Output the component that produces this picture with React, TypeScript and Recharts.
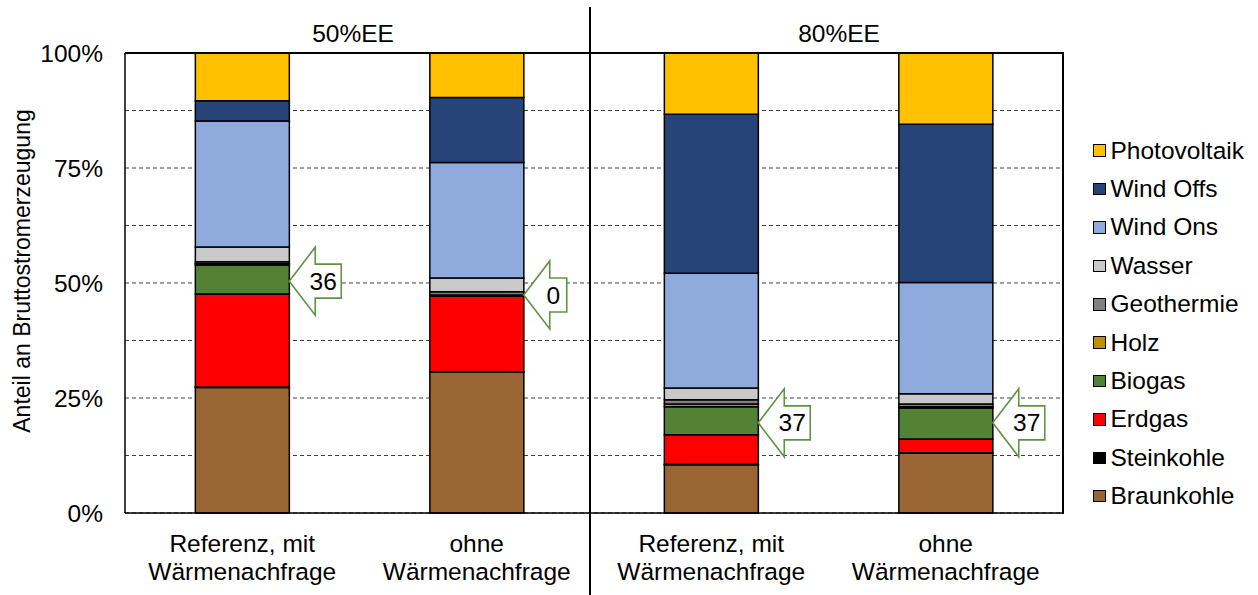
import React from "react";
import {
  BarChart,
  Bar,
  XAxis,
  YAxis,
  CartesianGrid,
  ReferenceDot,
} from "recharts";

// ---- data ----
const categoryKeys = ["ref50", "ohne50", "ref80", "ohne80"];
const categoryLabels = [
  ["Referenz, mit", "Wärmenachfrage"],
  ["ohne", "Wärmenachfrage"],
  ["Referenz, mit", "Wärmenachfrage"],
  ["ohne", "Wärmenachfrage"],
];
const groupTitles = ["50%EE", "80%EE"];

const braunkohle = [27.3, 30.6, 10.5, 13.0];
const steinkohle = [0.1, 0.1, 0.1, 0.1];
const erdgas = [20.2, 16.5, 6.4, 3.0];
const biogas = [6.3, 0, 6.1, 6.7];
const holz = [0.3, 0.2, 0.6, 0.3];
const geothermie = [0.4, 0.7, 0.9, 0.6];
const wasser = [3.2, 3.0, 2.6, 2.2];
const windOns = [27.4, 25.1, 24.9, 24.2];
const windOffs = [4.4, 14.1, 34.6, 34.4];
const photovoltaik = [10.4, 9.7, 13.3, 15.5];

const yTicks = [0, 12.5, 25, 37.5, 50, 62.5, 75, 87.5, 100];

const annotLabels = ["36", "0", "37", "37"];
const annotY = [50.4, 47.4, 19.6, 19.6];

// series in stacking order (bottom to top)
const series = [
  { key: "Braunkohle", values: braunkohle, color: "#996633" },
  { key: "Steinkohle", values: steinkohle, color: "#000000" },
  { key: "Erdgas", values: erdgas, color: "#FF0000" },
  { key: "Biogas", values: biogas, color: "#548235" },
  { key: "Holz", values: holz, color: "#BF9000" },
  { key: "Geothermie", values: geothermie, color: "#808080" },
  { key: "Wasser", values: wasser, color: "#C9C9C9" },
  { key: "Wind Ons", values: windOns, color: "#8FAADC" },
  { key: "Wind Offs", values: windOffs, color: "#264478" },
  { key: "Photovoltaik", values: photovoltaik, color: "#FFC000" },
];

const data = categoryKeys.map((cat, i) => {
  const row: Record<string, any> = { cat };
  series.forEach((s) => {
    row[s.key] = s.values[i];
  });
  return row;
});

const FONT = '"Liberation Sans", Arial, sans-serif';
const FS = 24.5;

const CategoryTick = (props: any) => {
  const { x, y, payload } = props;
  const idx = categoryKeys.indexOf(payload.value);
  const lines = categoryLabels[idx] || ["", ""];
  return (
    <text
      x={x}
      y={y}
      textAnchor="middle"
      fill="#000"
      fontSize={FS}
      fontFamily={FONT}
    >
      <tspan x={x} dy={39}>
        {lines[0]}
      </tspan>
      <tspan x={x} dy={28}>
        {lines[1]}
      </tspan>
    </text>
  );
};

const makeArrow = (label: string) => (props: any) => {
  const { cx, cy } = props;
  if (cx == null || cy == null) return <g />;
  const tx = cx + 47;
  const hx = tx + 26;
  const boxW = label.length > 1 ? 26 : 17;
  const bx = hx + boxW;
  const d = `M${tx},${cy} L${hx},${cy - 34} L${hx},${cy - 17} L${bx},${cy - 17} L${bx},${cy + 17} L${hx},${cy + 17} L${hx},${cy + 34} Z`;
  return (
    <g>
      <path d={d} fill="#ffffff" stroke="#619243" strokeWidth={1.6} />
      <text
        x={hx + boxW / 2 - 5}
        y={cy}
        dy="0.35em"
        textAnchor="middle"
        fontSize={FS}
        fontFamily={FONT}
        fill="#000"
      >
        {label}
      </text>
    </g>
  );
};

export default function App() {
  const legendItems = [...series].reverse();
  return (
    <div
      style={{
        position: "absolute",
        left: 0,
        top: 0,
        width: 1258,
        height: 595,
        background: "#fff",
        fontFamily: FONT,
      }}
    >
      <BarChart
        width={1258}
        height={595}
        data={data}
        margin={{ top: 53, right: 195, bottom: 0, left: 0 }}
        barCategoryGap="30%"
      >
        <CartesianGrid
          vertical={false}
          stroke="#404040"
          strokeDasharray="4 3"
          strokeWidth={1}
        />
        <XAxis
          dataKey="cat"
          height={82}
          tick={<CategoryTick />}
          tickLine={false}
          tickSize={0}
          tickMargin={0}
          axisLine={{ stroke: "#000", strokeWidth: 1.5 }}
          interval={0}
        />
        <YAxis
          width={125}
          domain={[0, 100]}
          ticks={yTicks}
          interval={0}
          tickFormatter={(v: number) => (v % 25 === 0 ? `${v}%` : "")}
          tickLine={false}
          tickSize={0}
          tickMargin={22}
          axisLine={{ stroke: "#000", strokeWidth: 1.5 }}
          tick={{ fill: "#000", fontSize: FS, fontFamily: FONT }}
        />
        {series.map((s) => (
          <Bar
            key={s.key}
            dataKey={s.key}
            stackId="a"
            fill={s.color}
            stroke="#000"
            strokeWidth={1.5}
            isAnimationActive={false}
          />
        ))}
        {categoryKeys.map((cat, i) => (
          <ReferenceDot
            key={cat}
            x={cat}
            y={annotY[i]}
            r={1}
            shape={makeArrow(annotLabels[i])}
          />
        ))}
      </BarChart>

      {/* plot frame: top and right edges */}
      <div
        style={{
          position: "absolute",
          left: 125,
          top: 52.25,
          width: 938,
          height: 1.5,
          background: "#000",
        }}
      />
      <div
        style={{
          position: "absolute",
          left: 1062.25,
          top: 52.25,
          width: 1.5,
          height: 461.5,
          background: "#000",
        }}
      />

      {/* group titles */}
      {groupTitles.map((t, i) => (
        <div
          key={t}
          style={{
            position: "absolute",
            left: i === 0 ? 353 : 839,
            top: 34,
            transform: "translate(-50%, -50%)",
            fontSize: FS,
            lineHeight: 1,
            color: "#000",
            whiteSpace: "nowrap",
          }}
        >
          {t}
        </div>
      ))}

      {/* group divider */}
      <div
        style={{
          position: "absolute",
          left: 589,
          top: 7,
          width: 1.5,
          height: 588,
          background: "#000",
        }}
      />

      {/* y axis title */}
      <div
        style={{
          position: "absolute",
          left: 22,
          top: 271,
          transform: "translate(-50%, -50%) rotate(-90deg)",
          fontSize: 23,
          lineHeight: 1,
          color: "#000",
          whiteSpace: "nowrap",
        }}
      >
        Anteil an Bruttostromerzeugung
      </div>

      {/* legend */}
      <div style={{ position: "absolute", left: 1093, top: 131.5 }}>
        {legendItems.map((s) => (
          <div
            key={s.key}
            style={{
              height: 38.4,
              display: "flex",
              alignItems: "center",
              whiteSpace: "nowrap",
            }}
          >
            <div
              style={{
                width: 10.5,
                height: 10.5,
                background: s.color,
                border: "1.5px solid #000",
                marginRight: 5,
              }}
            />
            <span style={{ fontSize: FS, color: "#000" }}>{s.key}</span>
          </div>
        ))}
      </div>
    </div>
  );
}
